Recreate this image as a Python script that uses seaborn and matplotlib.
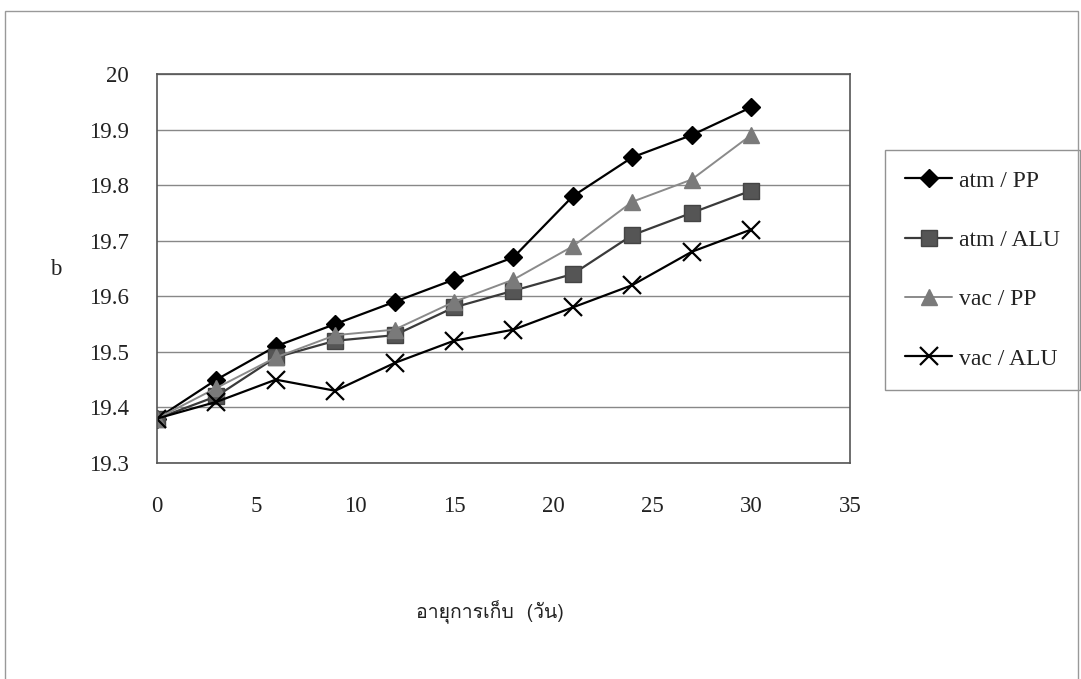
import numpy as np
import pandas as pd
import matplotlib
matplotlib.use("Agg")
import matplotlib.pyplot as plt
from matplotlib import font_manager
from matplotlib.ft2font import FT2Font
import seaborn as sns

days = [0, 3, 6, 9, 12, 15, 18, 21, 24, 27, 30]
atm_pp = [19.38, 19.45, 19.51, 19.55, 19.59, 19.63, 19.67, 19.78, 19.85, 19.89, 19.94]
atm_alu = [19.38, 19.42, 19.49, 19.52, 19.53, 19.58, 19.61, 19.64, 19.71, 19.75, 19.79]
vac_pp = [19.38, 19.435, 19.49, 19.53, 19.54, 19.59, 19.63, 19.69, 19.77, 19.81, 19.89]
vac_alu = [19.38, 19.41, 19.45, 19.43, 19.48, 19.52, 19.54, 19.58, 19.62, 19.68, 19.72]
series_names = ["atm / PP", "atm / ALU", "vac / PP", "vac / ALU"]
x_label = "อายุการเก็บ  (วัน)"
y_label = "b"

sns.set_style("white")
plt.rcParams["font.family"] = ["Liberation Serif", "DejaVu Serif"]

# find a font that covers Thai for the x label
thai_font = None
for f in font_manager.fontManager.ttflist:
    try:
        cm = FT2Font(f.fname).get_charmap()
        if 0x0E2D in cm and 0x0E22 in cm:
            thai_font = f.name
            break
    except Exception:
        pass

df = pd.DataFrame({
    "day": days * 4,
    "b": atm_pp + atm_alu + vac_pp + vac_alu,
    "series": sum([[n] * len(days) for n in series_names], []),
})

fig = plt.figure(figsize=(10.81, 6.79), dpi=100)
ax = fig.add_axes([157 / 1081, 1 - 463 / 679, (850 - 157) / 1081, (463 - 74) / 679])

styles = {
    "atm / PP": dict(color="#000000", marker="D", mfc="#000000", mec="#000000", ms=9, lw=1.6),
    "atm / ALU": dict(color="#3a3a3a", marker="s", mfc="#555555", mec="#444444", ms=11, lw=1.6),
    "vac / PP": dict(color="#8a8a8a", marker="^", mfc="#7a7a7a", mec="#7a7a7a", ms=11, lw=1.4),
    "vac / ALU": dict(color="#000000", marker="x", mfc="none", mec="#000000", ms=13, lw=1.6, mew=1.6),
}
for name in series_names:
    st = styles[name]
    sub = df[df["series"] == name]
    sns.lineplot(data=sub, x="day", y="b", ax=ax, color=st["color"], marker=st["marker"],
                 markersize=st["ms"], markerfacecolor=st["mfc"], markeredgecolor=st["mec"],
                 markeredgewidth=st.get("mew", 1.0), linewidth=st["lw"], label=name)

ax.set_xlim(0, 35)
ax.set_ylim(19.3, 20.0)
ax.set_xticks(np.arange(0, 36, 5))
ax.set_yticks(np.round(np.arange(19.3, 20.01, 0.1), 1))
ax.set_yticklabels(["19.3", "19.4", "19.5", "19.6", "19.7", "19.8", "19.9", "20"])
ax.yaxis.grid(True, color="#888888", linewidth=1.0)
ax.xaxis.grid(False)
for s in ax.spines.values():
    s.set_color("#555555")
    s.set_linewidth(1.2)
ax.tick_params(axis="x", direction="out", length=8, width=1, color="#555555", pad=16,
               labelsize=16.5, labelcolor="#222222")
ax.tick_params(axis="y", direction="out", length=8, width=1, color="#555555", pad=12,
               labelsize=16.5, labelcolor="#222222")
ax.set_xlabel("")
ax.set_ylabel("")

fig.text(56 / 1081, 1 - 270 / 679, y_label, fontsize=16.5, ha="center", va="center", color="#222222")
xl_kwargs = dict(fontsize=14, ha="center", va="center", color="#222222")
if thai_font:
    xl_kwargs["family"] = [thai_font, "DejaVu Sans"]
fig.text(490 / 1081, 1 - 612 / 679, x_label, **xl_kwargs)

leg = ax.legend(loc="upper left", bbox_to_anchor=(885 / 1081, 1 - 150 / 679),
                bbox_transform=fig.transFigure, frameon=True, fancybox=False,
                edgecolor="#777777", fontsize=17, labelspacing=1.6, handlelength=2.0,
                borderpad=0.85, borderaxespad=0, handletextpad=0.3)
leg.get_frame().set_linewidth(1.0)
for t in leg.get_texts():
    t.set_color("#222222")

# outer chart-area frame
fig.add_artist(plt.Rectangle((5 / 1081, -0.01), 1073 / 1081, 1 - 11 / 679 + 0.01, transform=fig.transFigure,
                             fill=False, edgecolor="#999999", linewidth=1.0))

fig.savefig("out.png", dpi=100)
